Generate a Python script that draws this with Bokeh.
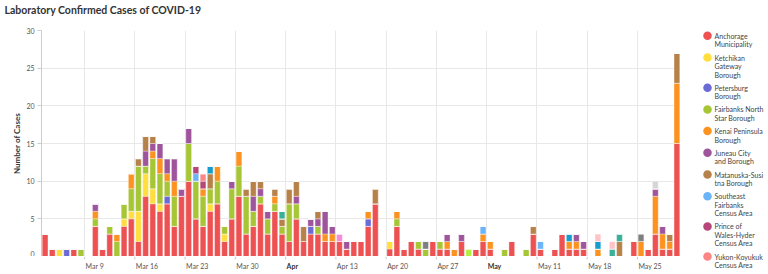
import pandas as pd
from bokeh.plotting import figure
from bokeh.layouts import row, column
from bokeh.models import ColumnDataSource, FixedTicker, Range1d, Span
from bokeh.embed import file_html
from bokeh.resources import INLINE
from bokeh.core.properties import value

FONT = "Lato"

# ---------------- data ----------------
title_text = "Laboratory Confirmed Cases of COVID-19"
days = pd.date_range("2020-03-03", "2020-05-30", freq="D")   # 89 days

# rows of 7 days, starting Tue Mar 3
anchorage = [3, 1, 0, 0, 1, 0, 0,
             4, 1, 3, 0, 4, 5, 2,
             8, 7, 6, 7, 4, 8, 10,
             5, 4, 6, 7, 2, 5, 8,
             3, 4, 7, 3, 6, 3, 2,
             5, 2, 3, 3, 2, 2, 2,
             1, 2, 2, 4, 7, 0, 1,
             4, 1, 2, 1, 0, 2, 1,
             1, 0, 2, 0, 1, 2, 1,
             0, 0, 2, 0, 0, 3, 1,
             0, 1, 3, 1, 1, 1, 0,
             0, 0, 0, 0, 0, 2, 0,
             1, 3, 1, 1, 15]
ketchikan = [0, 0, 1, 0, 0, 0, 0,
             0, 0, 0, 0, 1, 1, 4,
             3, 2, 1, 0, 0, 0, 0,
             0, 0, 1, 0, 1, 0, 0,
             0, 0, 0, 0, 0, 0, 0,
             0, 0, 0, 0, 0, 0, 0,
             0, 0, 0, 0, 0, 0, 1,
             0, 0, 0, 0, 0, 0, 0,
             0, 0, 0, 0, 0, 0, 0,
             0, 0, 0, 0, 0, 0, 0,
             0, 0, 0, 0, 0, 0, 0,
             0, 0, 0, 0, 0, 0, 0,
             0, 0, 0, 0, 0]
petersburg = [0, 0, 0, 1, 0, 0, 0,
              0, 0, 0, 0, 0, 0, 0,
              0, 0, 0, 1, 0, 0, 0,
              0, 0, 0, 0, 0, 0, 0,
              0, 0, 0, 0, 0, 0, 0,
              0, 0, 1, 0, 0, 0, 0,
              0, 0, 0, 1, 0, 0, 0,
              0, 0, 0, 0, 0, 0, 0,
              0, 0, 0, 0, 0, 0, 0,
              0, 0, 0, 0, 0, 0, 0,
              0, 0, 0, 0, 0, 0, 0,
              0, 0, 0, 0, 0, 0, 0,
              0, 0, 0, 0, 0]
fairbanks = [0, 0, 0, 0, 0, 1, 0,
             1, 0, 1, 2, 2, 3, 6,
             1, 4, 4, 2, 4, 0, 5,
             5, 4, 2, 3, 1, 4, 4,
             5, 2, 1, 2, 1, 1, 5,
             2, 0, 0, 1, 0, 0, 0,
             0, 0, 0, 0, 0, 0, 0,
             1, 0, 0, 1, 1, 0, 1,
             0, 0, 0, 0, 0, 0, 0,
             0, 1, 0, 0, 1, 0, 0,
             0, 0, 0, 0, 0, 0, 0,
             0, 0, 0, 0, 0, 0, 0,
             0, 0, 0, 0, 0]
kenai = [0, 0, 0, 0, 0, 0, 0,
         1, 0, 0, 1, 0, 2, 0,
         0, 1, 2, 1, 2, 0, 0,
         0, 1, 0, 2, 0, 0, 2,
         0, 0, 0, 0, 1, 0, 0,
         0, 0, 0, 0, 1, 1, 0,
         0, 0, 0, 1, 0, 0, 0,
         1, 0, 0, 0, 0, 0, 0,
         1, 1, 0, 0, 0, 1, 1,
         0, 0, 0, 0, 0, 0, 0,
         0, 0, 0, 1, 1, 0, 0,
         1, 0, 0, 0, 0, 0, 2,
         0, 5, 2, 1, 8]
juneau = [0, 0, 0, 0, 0, 0, 0,
          1, 0, 0, 0, 0, 0, 0,
          2, 1, 2, 2, 3, 1, 2,
          0, 0, 0, 0, 0, 1, 0,
          0, 2, 1, 1, 0, 0, 0,
          1, 0, 1, 1, 3, 1, 0,
          1, 0, 0, 0, 0, 0, 0,
          0, 0, 0, 0, 0, 0, 0,
          1, 0, 1, 0, 0, 0, 0,
          0, 0, 0, 0, 0, 0, 0,
          0, 0, 0, 0, 1, 1, 0,
          0, 0, 0, 0, 0, 0, 0,
          0, 1, 1, 0, 0]
matsu = [0, 0, 0, 0, 0, 0, 0,
         0, 0, 0, 0, 0, 0, 1,
         2, 1, 0, 0, 0, 0, 0,
         0, 0, 2, 0, 0, 0, 0,
         1, 2, 1, 0, 1, 1, 2,
         2, 2, 0, 1, 0, 0, 0,
         0, 0, 0, 0, 2, 0, 0,
         0, 0, 0, 0, 0, 0, 0,
         0, 0, 0, 0, 0, 0, 0,
         0, 0, 0, 0, 0, 1, 0,
         0, 0, 0, 0, 0, 0, 0,
         0, 0, 0, 2, 0, 0, 0,
         0, 0, 0, 1, 4]
se_fairbanks = [0] * 21 + [1] + [0] * 39 + [1] + [0] * 7 + [1] + [0] * 19
prince_wales = [0] * 21 + [1, 1] + [0] * 66
yukon = [0] * 22 + [1] + [0] * 66
other_cyan = [0] * 23 + [1] + [0] * 49 + [1] + [0] * 3 + [1] + [0] * 11
other_teal = [0] * 33 + [1] + [0] * 45 + [1, 1] + [0] * 8
other_pink = [0] * 41 + [1] + [0] * 47
other_lime = [0] * 59 + [1] + [0] * 29
other_gray = [0] * 53 + [1] + [0] * 29 + [1] + [0] * 5
other_lightpink = [0] * 77 + [1, 0, 1] + [0] * 9
other_lightgray = [0] * 85 + [1] + [0] * 3

series_names = ["Anchorage Municipality", "Ketchikan Gateway Borough", "Petersburg Borough",
                "Fairbanks North Star Borough", "Kenai Peninsula Borough", "Juneau City and Borough",
                "Matanuska-Susitna Borough", "Southeast Fairbanks Census Area",
                "Prince of Wales-Hyder Census Area", "Yukon-Koyukuk Census Area",
                "Sitka City and Borough", "Kodiak Island Borough", "Bethel Census Area",
                "Nome Census Area", "North Slope Borough", "Valdez-Cordova Census Area",
                "Dillingham Census Area"]
series_values = [anchorage, ketchikan, petersburg, fairbanks, kenai, juneau, matsu,
                 se_fairbanks, prince_wales, yukon, other_cyan, other_teal, other_pink,
                 other_lime, other_gray, other_lightpink, other_lightgray]
series_colors = ["#ed5151", "#ffde3e", "#6b6bd6", "#a7c636", "#fc921f", "#9e559c", "#b7814a",
                 "#6cb4f8", "#b54779", "#fc8585", "#149ece", "#3caf99", "#f789d8",
                 "#b2f03a", "#7f7f7f", "#ffc2c8", "#d6d6d6"]
legend_labels = ["Anchorage\nMunicipality", "Ketchikan\nGateway\nBorough", "Petersburg\nBorough",
                 "Fairbanks North\nStar Borough", "Kenai Peninsula\nBorough", "Juneau City\nand Borough",
                 "Matanuska-Susi\ntna Borough", "Southeast\nFairbanks\nCensus Area",
                 "Prince of\nWales-Hyder\nCensus Area", "Yukon-Koyukuk\nCensus Area"]

tick_dates = ["2020-03-09", "2020-03-16", "2020-03-23", "2020-03-30", "2020-04-06", "2020-04-13",
              "2020-04-20", "2020-04-27", "2020-05-04", "2020-05-11", "2020-05-18", "2020-05-25"]
tick_labels = ["Mar 9", "Mar 16", "Mar 23", "Mar 30", "Apr", "Apr 13",
               "Apr 20", "Apr 27", "May", "May 11", "May 18", "May 25"]
tick_bold = [False, False, False, False, True, False, False, False, True, False, False, False]
y_ticks = [0, 5, 10, 15, 20, 25, 30]

# ---------------- title strip ----------------
t = figure(width=690, height=24, x_range=Range1d(0, 690), y_range=Range1d(24, 0),
           output_backend="svg", toolbar_location=None,
           x_axis_location=None, y_axis_location=None,
           min_border_left=0, min_border_right=0, min_border_top=0, min_border_bottom=0)
t.frame_align = False
t.grid.visible = False
t.outline_line_color = None
t.text(x=[4], y=[9.5], text=[title_text], text_font=value(FONT), text_font_size="10.5px",
       text_font_style="bold", text_color="#333333", text_baseline="middle", text_align="left")

# ---------------- main chart ----------------
keys = ["s%d" % i for i in range(len(series_values))]
data = {"x": [i + 0.5 for i in range(len(days))]}
for k, v in zip(keys, series_values):
    data[k] = v
src = ColumnDataSource(data)

xr = Range1d(0, len(days))
p = figure(width=690, height=232, x_range=xr, y_range=Range1d(0, 30),
           output_backend="svg", toolbar_location=None, x_axis_location=None,
           min_border_left=41, min_border_right=10, min_border_top=6, min_border_bottom=0)

p.vbar_stack(keys, x="x", width=0.8, source=src, color=series_colors,
             line_color="white", line_width=0.5, line_alpha=0.7)

tick_idx = [int((pd.Timestamp(d) - days[0]).days) for d in tick_dates]

p.yaxis.ticker = FixedTicker(ticks=y_ticks)
p.yaxis.axis_label = "Number of Cases"
p.yaxis.axis_label_text_font = FONT
p.yaxis.axis_label_text_font_size = "8px"
p.yaxis.axis_label_text_font_style = "bold"
p.yaxis.axis_label_text_color = "#333333"
p.yaxis.axis_label_standoff = 1
p.yaxis.major_label_text_font = FONT
p.yaxis.major_label_text_font_size = "7px"
p.yaxis.major_label_text_color = "#555555"
p.yaxis.major_label_standoff = 3
p.yaxis.major_tick_out = 4
p.yaxis.major_tick_in = 0
p.yaxis.minor_tick_line_color = None
p.yaxis.axis_line_color = "#cccccc"
p.yaxis.major_tick_line_color = "#cccccc"

p.xgrid.ticker = FixedTicker(ticks=tick_idx)
p.xgrid.grid_line_color = "#e8e8e8"
p.ygrid.grid_line_color = "#e8e8e8"
p.outline_line_color = None
p.add_layout(Span(location=0, dimension="width", line_color="#cccccc", line_width=1))

# ---------------- x tick marks + labels strip (left aligned at grid lines) ----------------
s = figure(width=690, height=18, x_range=xr, y_range=Range1d(18, 0),
           output_backend="svg", toolbar_location=None,
           x_axis_location=None, y_axis_location=None,
           min_border_left=41, min_border_right=10, min_border_top=0, min_border_bottom=0)
s.grid.visible = False
s.outline_line_color = None
s.segment(x0=tick_idx, y0=[0] * len(tick_idx), x1=tick_idx, y1=[3] * len(tick_idx),
          line_color="#cccccc", line_width=1)
norm_x = [i for i, b in zip(tick_idx, tick_bold) if not b]
norm_t = [l for l, b in zip(tick_labels, tick_bold) if not b]
bold_x = [i for i, b in zip(tick_idx, tick_bold) if b]
bold_t = [l for l, b in zip(tick_labels, tick_bold) if b]
s.text(x=norm_x, y=[5] * len(norm_x), text=norm_t, x_offset=1, text_font=value(FONT),
       text_font_size="7px", text_color="#555555", text_align="left", text_baseline="top")
s.text(x=bold_x, y=[5] * len(bold_x), text=bold_t, x_offset=1, text_font=value(FONT),
       text_font_size="7px", text_font_style="bold", text_color="#333333",
       text_align="left", text_baseline="top")

# ---------------- legend ----------------
q = figure(width=78, height=274, x_range=Range1d(0, 78), y_range=Range1d(274, 0),
           output_backend="svg", toolbar_location=None,
           x_axis_location=None, y_axis_location=None,
           min_border_left=0, min_border_right=0, min_border_top=0, min_border_bottom=0)
q.frame_align = False
q.grid.visible = False
q.outline_line_color = None

LINE_H = 8.5
GAP = 4.7
y = 35.3
cx, cy, cc, tx, ty, tt = [], [], [], [], [], []
for lab, col in zip(legend_labels, series_colors):
    lines = lab.split("\n")
    cx.append(17); cy.append(y); cc.append(col)
    for j, ln in enumerate(lines):
        tx.append(24); ty.append(y + j * LINE_H); tt.append(ln)
    y += LINE_H * len(lines) + GAP

q.scatter(x=cx, y=cy, color=cc, size=8.5, marker="circle", line_color=None)
q.text(x=tx, y=ty, text=tt, text_font=value(FONT), text_font_size="7px",
       text_baseline="middle", text_align="left", text_color="#444444")

layout = row(column(t, p, s), q)
open("out.html", "w").write(file_html(layout, INLINE))
